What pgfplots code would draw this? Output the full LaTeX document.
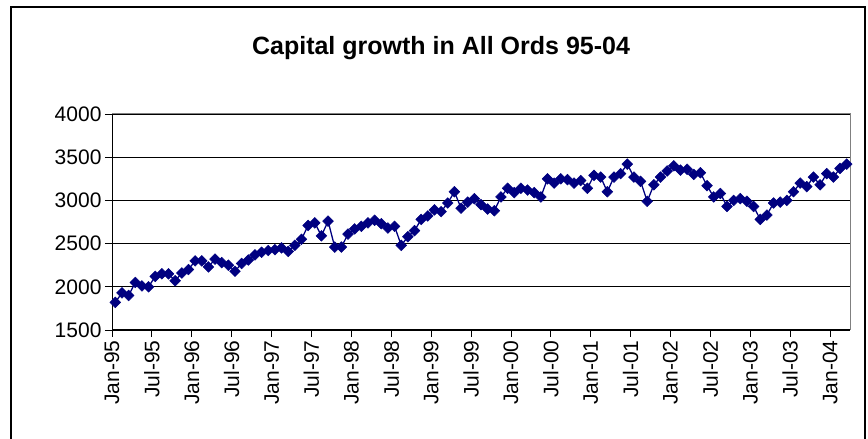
\documentclass[border=0pt]{standalone}
\usepackage{pgfplots}
\pgfplotsset{compat=1.18}
\usepackage{pgfplotstable}
\usepackage{fontspec}
\setmainfont{Liberation Sans}

\definecolor{navy}{RGB}{0,0,128}

% month index (0 = Jan-95, plotted mid-month), index level
\pgfplotstableread{
m v
0 1820
1 1930
2 1900
3 2050
4 2010
5 2000
6 2120
7 2150
8 2150
9 2070
10 2160
11 2200
12 2300
13 2300
14 2230
15 2320
16 2280
17 2250
18 2180
19 2270
20 2310
21 2370
22 2400
23 2420
24 2430
25 2450
26 2410
27 2480
28 2550
29 2710
30 2740
31 2590
32 2760
33 2460
34 2460
35 2610
36 2670
37 2700
38 2740
39 2770
40 2730
41 2680
42 2700
43 2480
44 2580
45 2650
46 2780
47 2820
48 2890
49 2870
50 2970
51 3100
52 2910
53 2980
54 3020
55 2950
56 2900
57 2880
58 3040
59 3140
60 3090
61 3140
62 3120
63 3090
64 3040
65 3250
66 3200
67 3250
68 3240
69 3200
70 3230
71 3140
72 3290
73 3270
74 3100
75 3270
76 3310
77 3420
78 3270
79 3220
80 2990
81 3180
82 3270
83 3340
84 3400
85 3350
86 3360
87 3300
88 3320
89 3170
90 3040
91 3080
92 2930
93 3000
94 3020
95 2990
96 2930
97 2780
98 2830
99 2970
100 2980
101 3000
102 3100
103 3200
104 3160
105 3270
106 3180
107 3310
108 3270
109 3370
110 3420
}\allords

\begin{document}
\begin{tikzpicture}
\path[use as bounding box] (0,0) rectangle (868pt,439pt);
\draw[black, line width=1.2pt] (11pt,-5pt) rectangle (865pt,432pt);
\node[anchor=base, font=\fontsize{25}{25}\selectfont\bfseries] at (441pt,384pt) {Capital growth in All Ords 95-04};

\begin{axis}[
  at={(112pt,109pt)}, anchor=south west,
  scale only axis, width=738pt, height=216pt,
  xmin=0, xmax=111,
  ymin=1500, ymax=4000,
  xtick={0,6,...,108},
  xticklabels={Jan-95,Jul-95,Jan-96,Jul-96,Jan-97,Jul-97,Jan-98,Jul-98,Jan-99,Jul-99,Jan-00,Jul-00,Jan-01,Jul-01,Jan-02,Jul-02,Jan-03,Jul-03,Jan-04},
  ytick={1500,2000,...,4000},
  xtick pos=left, ytick pos=left,
  tick align=outside,
  major tick length=7pt,
  tick style={black, line width=0.8pt},
  ymajorgrids=true,
  grid style={black, line width=0.8pt},
  axis line style={gray, line width=1pt},
  /pgf/number format/1000 sep={},
  /pgf/number format/assume math mode=true,
  ticklabel style={font=\fontsize{21}{21}\selectfont},
  xticklabel style={rotate=90, anchor=east},
]
\addplot[navy, line width=1.3pt, mark=square*, mark size=3.8pt,
  mark options={rotate=45, fill=navy, draw=navy, line width=0.5pt}]
  table[x expr=\thisrow{m}+0.5, y=v] {\allords};
\draw[black, line width=1pt] (rel axis cs:0,0) -- (rel axis cs:0,1);
\draw[black, line width=1pt] (rel axis cs:0,0) -- (rel axis cs:1,0);
\end{axis}
\end{tikzpicture}
\end{document}
